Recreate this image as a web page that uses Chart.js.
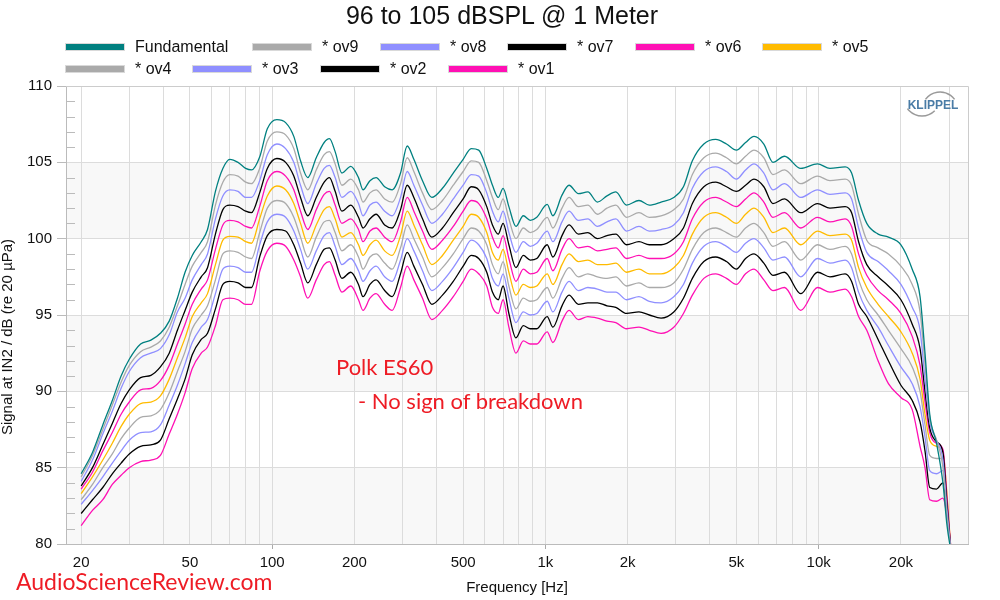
<!DOCTYPE html>
<html>
<head>
<meta charset="utf-8">
<script src="https://cdn.jsdelivr.net/npm/chart.js@4/dist/chart.umd.min.js"></script>
<style>
html,body{margin:0;padding:0;background:#fff;}
#wrap{position:relative;width:1000px;height:600px;overflow:hidden;font-family:"Liberation Sans",Arial,sans-serif;color:#111;}
#c{position:absolute;left:0;top:0;}
#title{position:absolute;left:0;width:1004px;top:3px;text-align:center;font-size:25px;line-height:25px;white-space:nowrap;}
.lg{position:absolute;height:20px;display:flex;align-items:center;font-size:16px;white-space:nowrap;}
.sw{width:58px;height:6px;margin-right:11px;box-shadow:0 0 0 1px rgba(0,0,0,0.15);}
.note{position:absolute;color:#ee1c25;font-family:Lato,"Open Sans",sans-serif;white-space:nowrap;}
</style>
</head>
<body>
<div id="wrap">
  <canvas id="c" width="1000" height="600"></canvas>
  <div id="title">96 to 105 dBSPL @ 1 Meter</div>
  <div id="legend"></div>
  <div class="note" style="left:336px;top:356px;font-size:22px;line-height:22px;">Polk ES60</div>
  <div class="note" style="left:358px;top:390px;font-size:22px;line-height:22px;">- No sign of breakdown</div>
  <div class="note" style="left:16px;top:570px;font-size:23px;line-height:23px;">AudioScienceReview.com</div>
</div>
<script>
// ---------- DATA ----------
const FREQ = [20,22,24,26,28,30,33,36,39,42,45,48,51,55,58,62,66,70,75,80,84,90,96,104,112,120,127,135,145,155,162,170,180,194,207,215,228,240,258,275,295,312,330,355,384,420,460,500,535,570,610,640,672,700,735,780,830,880,930,1015,1065,1150,1220,1320,1430,1550,1680,1810,1980,2200,2400,2650,2950,3200,3450,3800,4200,4600,5000,5400,5800,6300,6800,7500,8600,9900,11000,12500,13200,14000,15000,16500,18000,20000,22000,23500,24500,25500,27000,28500,29500,30500];

const FUNDAMENTAL = [84.6,86.0,87.8,89.4,91.0,92.1,93.1,93.35,93.8,94.6,96.1,97.8,98.9,99.8,100.6,103.1,104.6,105.2,105.0,104.6,104.5,105.35,107.2,107.8,107.6,106.7,105.1,104.0,105.3,106.3,106.55,105.7,104.3,104.74,104.0,103.2,103.8,104.0,103.4,103.2,104.3,106.07,105.2,103.8,102.7,103.3,104.3,105.2,105.9,105.8,104.6,103.5,102.7,103.3,102.1,100.8,101.5,101.2,101.4,102.25,101.5,102.85,103.5,102.95,103.06,102.4,102.8,103.06,102.2,102.5,102.2,102.4,102.7,103.4,105.1,106.2,106.5,106.2,105.8,106.3,106.7,106.2,105.0,105.4,104.6,104.9,104.6,104.7,104.3,102.5,101.0,100.3,100.1,99.6,98.0,96.2,92.5,88.5,86.6,84.0,81.2,79.5];

const OV9 = [84.4,85.8,87.5,89.1,90.6,91.7,92.6,92.9,93.3,94.2,95.6,97.0,98.2,99.1,99.8,102.2,103.7,104.2,104.1,103.7,103.6,104.6,106.4,107.0,106.8,105.9,104.3,103.2,104.5,105.5,105.7,104.9,103.5,103.9,103.2,102.4,103.0,103.2,102.6,102.4,103.6,105.3,104.4,103.0,101.9,102.5,103.5,104.4,105.1,105.0,103.8,102.7,101.9,102.6,101.3,100.0,100.7,100.4,100.6,101.4,100.7,102.0,102.7,102.1,102.2,101.6,102.0,102.2,101.4,101.7,101.4,101.5,101.9,102.6,104.2,105.3,105.6,105.3,104.9,105.4,105.8,105.3,104.2,104.5,103.6,104.1,103.8,103.9,103.5,101.6,99.9,99.4,99.0,98.2,97.0,95.2,91.8,88.3,86.8,85.0,81.8,79.5];

const OV8 = [84.1,85.5,87.2,88.7,90.2,91.3,92.2,92.5,92.8,93.7,95.2,96.1,97.3,98.3,99.0,101.3,102.8,103.2,103.1,102.7,102.7,103.8,105.5,106.2,105.9,105.0,103.5,102.3,103.6,104.6,104.8,104.0,102.7,103.1,102.3,101.5,102.2,102.4,101.8,101.5,102.7,104.4,103.5,102.2,101.0,101.6,102.6,103.5,104.2,104.1,103.0,101.8,101.1,101.8,100.4,99.1,99.8,99.5,99.7,100.5,99.8,101.1,101.8,101.2,101.3,100.8,101.1,101.3,100.5,100.8,100.5,100.6,100.9,101.7,103.3,104.4,104.7,104.4,103.9,104.5,104.9,104.3,103.2,103.6,102.7,103.2,102.9,103.0,102.6,100.7,99.1,98.5,97.9,97.0,95.5,94.0,90.8,88.0,86.8,85.5,82.2,79.5];

const OV7 = [83.8,85.0,86.5,87.9,89.2,90.1,90.9,91.05,91.6,92.5,94.0,95.3,96.5,97.5,98.1,100.3,101.9,102.2,102.1,101.8,101.7,103.0,104.6,105.25,105.0,104.1,102.7,101.5,102.7,103.7,104.0,103.1,101.8,102.2,101.4,100.7,101.3,101.6,100.9,100.7,101.9,103.5,102.7,101.3,100.1,100.7,101.7,102.6,103.4,103.2,102.1,100.9,100.3,101.0,99.6,98.1,98.9,98.6,98.7,99.6,98.8,100.2,100.9,100.3,100.4,100.0,100.2,100.3,99.6,99.8,99.6,99.6,100.0,100.7,102.3,103.4,103.7,103.4,103.1,103.5,103.9,103.4,102.3,102.6,101.7,102.3,102.0,102.1,101.7,99.8,98.3,97.5,96.9,96.0,94.4,92.8,90.0,87.6,86.7,86.0,82.6,79.5];

const OV6 = [83.6,84.7,86.1,87.3,88.5,89.3,90.1,90.2,90.7,91.7,93.1,94.4,95.7,96.7,97.3,99.3,100.9,101.2,101.1,100.8,100.7,102.1,103.8,104.4,104.1,103.2,101.8,100.6,101.9,102.9,103.1,102.2,101.0,101.3,100.6,99.8,100.5,100.7,100.1,99.8,101.1,102.7,101.8,100.5,99.3,99.9,100.8,101.8,102.5,102.3,101.3,100.1,99.4,100.2,98.7,97.2,98.0,97.7,97.8,98.7,97.9,99.3,100.0,99.4,99.5,99.2,99.3,99.4,98.7,98.9,98.7,98.7,99.0,99.8,101.3,102.4,102.7,102.4,102.1,102.6,103.0,102.4,101.4,101.7,100.7,101.4,101.1,101.3,100.8,99.0,97.6,96.6,96.0,95.1,93.6,91.7,89.3,87.3,86.6,86.2,83.0,79.5];

const OV5 = [83.3,84.4,85.5,86.6,87.7,88.5,89.2,89.3,89.7,90.8,92.2,93.5,94.9,95.8,96.4,98.3,99.9,100.15,100.1,99.8,99.7,101.3,102.8,103.45,103.2,102.3,101.0,99.7,100.9,101.9,102.1,101.3,100.1,100.4,99.6,98.9,99.6,99.9,99.2,98.9,100.2,101.8,100.9,99.6,98.3,98.9,99.9,100.8,101.6,101.4,100.4,99.1,98.6,99.3,97.8,96.3,97.0,96.8,96.9,97.7,97.0,98.3,99.0,98.5,98.6,98.3,98.3,98.4,97.8,98.0,97.7,97.7,98.1,98.9,100.3,101.4,101.7,101.4,101.0,101.6,102.0,101.4,100.4,100.7,99.6,100.5,100.2,100.3,99.9,98.1,96.8,95.7,94.9,93.9,92.5,90.8,88.5,86.8,86.4,86.0,83.2,79.5];

const OV4 = [82.9,83.9,85.0,85.9,86.9,87.6,88.3,88.4,88.8,89.9,91.3,92.6,94.1,95.0,95.6,97.3,99.0,99.2,99.1,98.8,98.7,100.4,102.0,102.5,102.3,101.4,100.1,98.8,100.1,101.1,101.2,100.4,99.2,99.6,98.8,98.0,98.8,99.0,98.4,98.0,99.4,100.9,100.0,98.8,97.5,98.1,99.0,100.0,100.7,100.5,99.6,98.3,97.7,98.5,96.9,95.4,96.1,95.9,96.0,96.8,96.1,97.4,98.1,97.5,97.7,97.5,97.4,97.5,96.9,97.1,96.8,96.8,97.1,98.0,99.3,100.4,100.7,100.4,100.1,100.7,101.0,100.4,99.5,99.8,98.6,99.6,99.3,99.5,99.0,97.3,96.0,95.0,94.0,92.8,91.6,90.0,87.8,85.8,85.6,85.6,82.8,79.5];

const OV3 = [82.6,83.5,84.4,85.3,86.1,86.8,87.3,87.35,87.8,89.1,90.4,91.8,93.2,94.2,94.7,96.4,98.0,98.2,98.1,97.8,97.8,99.6,101.1,101.6,101.4,100.5,99.3,98.0,99.2,100.2,100.4,99.5,98.3,98.7,97.9,97.2,97.9,98.2,97.5,97.2,98.6,100.0,99.2,97.9,96.6,97.2,98.1,99.1,99.9,99.6,98.7,97.4,96.9,97.7,96.1,94.5,95.2,95.0,95.1,95.9,95.2,96.5,97.2,96.6,96.8,96.7,96.5,96.5,96.0,96.2,95.9,95.8,96.2,97.0,98.4,99.5,99.8,99.5,99.1,99.7,100.0,99.4,98.6,98.8,97.5,98.7,98.4,98.6,98.1,96.5,95.3,94.2,93.0,91.6,90.5,89.0,87.0,84.8,84.6,84.8,82.5,79.5];

const OV2 = [82.0,82.9,83.7,84.6,85.3,85.9,86.4,86.5,86.8,88.2,89.5,90.8,92.4,93.4,93.8,95.4,97.0,97.2,97.1,96.8,96.8,98.8,100.2,100.6,100.5,99.6,98.4,97.1,98.3,99.3,99.4,98.6,97.4,97.8,97.0,96.2,97.0,97.3,96.6,96.2,97.7,99.1,98.2,97.0,95.7,96.3,97.2,98.2,98.9,98.7,97.8,96.5,96.0,96.9,95.1,93.5,94.3,94.1,94.1,94.9,94.2,95.6,96.3,95.7,95.8,95.8,95.6,95.5,95.1,95.2,95.0,94.8,95.2,96.1,97.4,98.5,98.8,98.5,98.0,98.7,99.0,98.4,97.6,97.8,96.4,97.8,97.5,97.7,97.2,95.7,94.9,93.4,92.0,90.4,89.4,88.0,86.1,83.7,83.6,84.0,82.0,79.5];

const OV1 = [81.2,82.2,82.9,83.9,84.5,85.0,85.4,85.5,85.8,87.2,88.5,89.9,91.5,92.5,92.9,94.3,96.0,96.1,96.0,95.7,95.7,97.85,99.2,99.7,99.5,98.6,97.5,96.1,97.3,98.3,98.5,97.6,96.5,96.9,96.0,95.3,96.1,96.4,95.7,95.3,96.8,98.2,97.3,96.1,94.7,95.3,96.2,97.2,98.0,97.7,96.9,95.5,95.1,96.0,94.2,92.5,93.3,93.1,93.1,93.9,93.2,94.6,95.3,94.7,94.9,94.8,94.6,94.5,94.1,94.2,94.0,93.8,94.2,95.1,96.3,97.4,97.7,97.4,97.0,97.7,98.0,97.3,96.6,96.8,95.3,96.8,96.5,96.7,96.2,94.9,94.0,92.0,90.5,89.6,88.8,86.4,85.0,82.9,82.8,83.0,81.8,79.8];

const SERIES_NAMES = ['Fundamental','* ov9','* ov8','* ov7','* ov6','* ov5','* ov4','* ov3','* ov2','* ov1'];
const SERIES_VALUES = [FUNDAMENTAL, OV9, OV8, OV7, OV6, OV5, OV4, OV3, OV2, OV1];

const X_TICK_VALUES = [20,50,100,200,500,1000,2000,5000,10000,20000];
const X_TICK_LABELS = ['20','50','100','200','500','1k','2k','5k','10k','20k'];
const X_GRID_VALUES = [20,30,40,50,60,70,80,90,100,200,300,400,500,600,700,800,900,1000,2000,3000,4000,5000,6000,7000,8000,9000,10000,20000,30000];
const Y_TICK_VALUES = [80,85,90,95,100,105,110];

// ---------- STYLE ----------
const COLORS = ['#008080','#aaaaaa','#8f8fff','#000000','#ff10b4','#ffbb00','#aaaaaa','#8f8fff','#000000','#ff10b4'];
const LEGEND_POS = [[66,37],[253,37],[381,37],[508,37],[636,37],[763,37],[66,59],[193,59],[321,59],[449,59]];
const BANDS = [[80,85],[90,95],[100,105]];
const FONT = '"Liberation Sans", Arial, sans-serif';

Chart.defaults.font.family = FONT;
Chart.defaults.color = '#111';

const datasets = SERIES_NAMES.map((name, i) => ({
  label: name,
  data: FREQ.map((f, k) => ({x: f, y: SERIES_VALUES[i][k]})),
  borderColor: COLORS[i],
  backgroundColor: COLORS[i],
  borderWidth: 1.3,
  pointRadius: 0,
  fill: false,
  cubicInterpolationMode: 'monotone'
}));

const decorPlugin = {
  id: 'decor',
  beforeDraw(chart) {
    const {ctx, chartArea: a, scales: {y}} = chart;
    ctx.save();
    ctx.fillStyle = '#f8f8f8';
    for (const [lo, hi] of BANDS) {
      const y1 = y.getPixelForValue(hi), y2 = y.getPixelForValue(lo);
      ctx.fillRect(a.left, y1, a.right - a.left, y2 - y1);
    }
    ctx.restore();
  },
  beforeDatasetsDraw(chart) {
    const {ctx, chartArea: a, scales: {y}} = chart;
    ctx.save();
    ctx.strokeStyle = '#cccccc';
    ctx.lineWidth = 1;
    ctx.beginPath();
    ctx.moveTo(a.left, Math.round(a.top) + 0.5);
    ctx.lineTo(Math.round(a.right) + 0.5, Math.round(a.top) + 0.5);
    ctx.lineTo(Math.round(a.right) + 0.5, a.bottom);
    ctx.stroke();
    ctx.strokeStyle = '#bbbbbb';
    ctx.beginPath();
    for (let v = 81; v < 110; v++) {
      if (v % 5 === 0) continue;
      const py = Math.round(y.getPixelForValue(v)) + 0.5;
      ctx.moveTo(a.left, py);
      ctx.lineTo(a.left + 9, py);
    }
    ctx.stroke();
    ctx.fillStyle = '#111';
    ctx.font = '15px ' + FONT;
    ctx.textAlign = 'center';
    ctx.textBaseline = 'middle';
    ctx.translate(8, 337);
    ctx.rotate(-Math.PI / 2);
    ctx.fillText('Signal at IN2 / dB (re 20 \u00b5Pa)', 0, 0);
    ctx.restore();
    ctx.save();
    ctx.fillStyle = '#4a7ca6';
    ctx.font = 'bold 12px ' + FONT;
    ctx.textAlign = 'center';
    ctx.textBaseline = 'middle';
    ctx.fillText('KLIPPEL', 933, 106);
    ctx.strokeStyle = '#9a9a9a';
    ctx.lineWidth = 1.5;
    ctx.beginPath();
    ctx.arc(940, 110, 18, 1.2 * Math.PI, 1.8 * Math.PI);
    ctx.stroke();
    ctx.beginPath();
    ctx.arc(922, 98, 18, 0.25 * Math.PI, 0.8 * Math.PI);
    ctx.stroke();
    ctx.restore();
  }
};

const chart = new Chart(document.getElementById('c'), {
  type: 'line',
  data: {datasets},
  plugins: [decorPlugin],
  options: {
    responsive: false,
    animation: false,
    events: [],
    layout: {padding: {top: 86, right: 32, left: 0, bottom: 0}},
    plugins: {legend: {display: false}, tooltip: {enabled: false}, title: {display: false}},
    scales: {
      x: {
        type: 'logarithmic',
        min: 17.6,
        max: 35200,
        afterBuildTicks: s => { s.ticks = X_GRID_VALUES.map(v => ({value: v})); },
        afterFit: s => { s.height = 56; },
        ticks: {
          autoSkip: false, maxRotation: 0, minRotation: 0,
          font: {size: 15}, color: '#111', padding: 5,
          callback: v => { const i = X_TICK_VALUES.indexOf(v); return i >= 0 ? X_TICK_LABELS[i] : ''; }
        },
        grid: {
          color: '#dcdcdc', lineWidth: 1, tickLength: 5,
          tickColor: c => [100, 1000, 10000].includes(c.tick && c.tick.value) ? '#aaaaaa' : 'rgba(0,0,0,0)'
        },
        border: {color: '#bbbbbb'},
        title: {display: true, text: 'Frequency [Hz]', font: {size: 15}, color: '#111', padding: {top: 0, bottom: 3}}
      },
      y: {
        min: 80,
        max: 110,
        afterBuildTicks: s => { s.ticks = Y_TICK_VALUES.map(v => ({value: v})); },
        afterFit: s => { s.width = 66; },
        ticks: {font: {size: 15}, color: '#111', padding: 5},
        grid: {color: '#dcdcdc', lineWidth: 1, tickLength: 9, tickColor: '#bbbbbb'},
        border: {color: '#bbbbbb'}
      }
    }
  }
});

const lg = document.getElementById('legend');
chart.data.datasets.forEach((ds, i) => {
  const item = document.createElement('div');
  item.className = 'lg';
  item.style.left = LEGEND_POS[i][0] + 'px';
  item.style.top = LEGEND_POS[i][1] + 'px';
  const sw = document.createElement('span');
  sw.className = 'sw';
  sw.style.background = ds.borderColor;
  const tx = document.createElement('span');
  tx.textContent = ds.label;
  item.appendChild(sw);
  item.appendChild(tx);
  lg.appendChild(item);
});
</script>
</body>
</html>
